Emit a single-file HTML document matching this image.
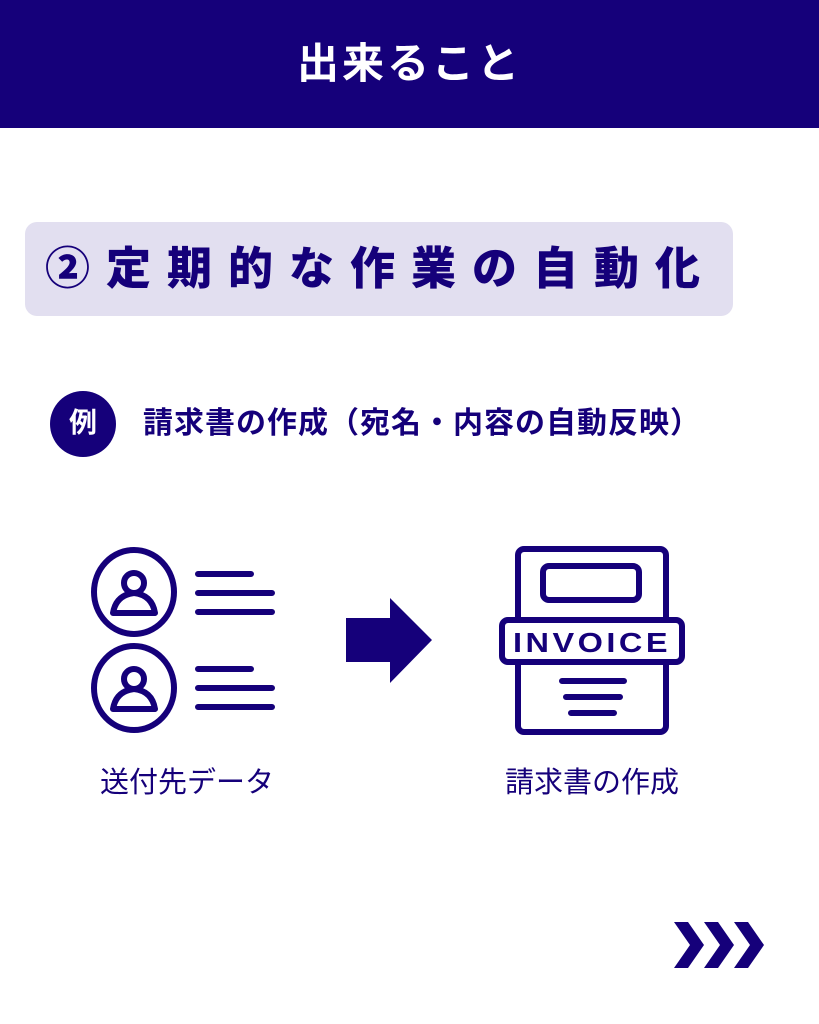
<!DOCTYPE html>
<html><head><meta charset="utf-8"><style>
body{margin:0;width:819px;height:1024px;background:#fff;position:relative;overflow:hidden;font-family:"Liberation Sans","Noto Sans CJK JP",sans-serif;color:#15007a}
.hdr{position:absolute;left:0;top:0;width:819px;height:128px;background:#15007a;color:#fff;font-weight:bold;font-size:42px;text-align:center;line-height:128px;letter-spacing:3px}
.ban{position:absolute;left:25px;top:222px;width:708px;height:94px;background:#e2dff0;border-radius:12px}
.ban span{position:absolute;left:20px;top:0;line-height:94px;font-size:45px;font-weight:900;letter-spacing:16px;white-space:nowrap}
.ex{position:absolute;left:50px;top:391px;width:66px;height:66px;border-radius:50%;background:#15007a;color:#fff;font-weight:bold;font-size:28px;text-align:center;line-height:64px}
.sub{position:absolute;left:143px;top:404px;font-size:30px;font-weight:bold;line-height:40px;white-space:nowrap;letter-spacing:1px}
.lab{position:absolute;top:763px;font-size:29px;line-height:40px;white-space:nowrap;transform:translateX(-50%)}
</style></head><body>
<div class="hdr">出来ること</div>
<div class="ban"><span>②定期的な作業の自動化</span></div>
<div class="ex">例</div>
<div class="sub">請求書の作成（宛名・内容の自動反映）</div>
<svg width="819" height="1024" style="position:absolute;left:0;top:0">
<g fill="none" stroke="#15007a" stroke-width="6" stroke-linecap="round" stroke-linejoin="round">
<ellipse cx="134" cy="592" rx="40" ry="42"/>
<ellipse cx="134" cy="688" rx="40" ry="42"/>
<circle cx="134" cy="583" r="10"/>
<path d="M113 613 Q116 595 134 593 Q152 595 155 613 Z"/>
<circle cx="134" cy="679" r="10"/>
<path d="M113 709 Q116 691 134 689 Q152 691 155 709 Z"/>
<path d="M198 574H251M198 593H272M198 612H272M198 669H251M198 688H272M198 707H272"/>
<rect x="518" y="549" width="148" height="183" rx="6"/>
<rect x="543" y="566" width="96" height="34" rx="6"/>
<rect x="502" y="620" width="180" height="42" rx="6" fill="#fff"/>
<path d="M562 681H624M566 697H620M571 713H614"/>
</g>
<text x="592" y="652" text-anchor="middle" font-family="Liberation Sans,sans-serif" font-weight="bold" font-size="28" letter-spacing="3" fill="#15007a" textLength="158" lengthAdjust="spacingAndGlyphs">INVOICE</text>
<path fill="#15007a" d="M346 618H390V598L432 640L390 683V662H346Z"/>
<path fill="#15007a" d="M674 922H688L704 945L688 968H674L690 945ZM704 922H718L734 945L718 968H704L720 945ZM734 922H748L764 945L748 968H734L750 945Z"/>
</svg>
<div class="lab" style="left:187px">送付先データ</div>
<div class="lab" style="left:592px">請求書の作成</div>
</body></html>
